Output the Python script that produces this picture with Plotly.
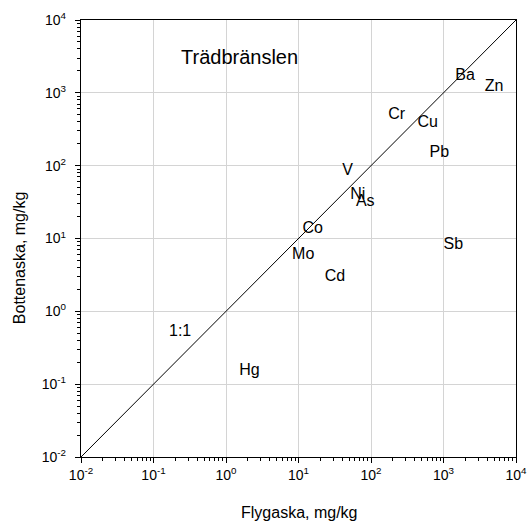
import plotly.graph_objects as go

# Element concentrations (mg/kg): fly ash (x) vs bottom ash (y)
elements = ["Ba", "Zn", "Cr", "Cu", "Pb", "V", "Ni", "As", "Co", "Sb", "Mo", "Cd", "Hg"]
flygaska = [1980, 5000, 226, 606, 875, 47.7, 65.6, 83.4, 15.7, 1365, 11.6, 31.9, 2.1]
bottenaska = [1700, 1210, 495, 388, 150, 84.3, 39.5, 31.9, 13.5, 8.1, 5.9, 2.98, 0.152]

# 1:1 reference line
ref_line = [0.01, 10000]

tick_vals = [0.01, 0.1, 1, 10, 100, 1000, 10000]
tick_text = ["10<sup>-2</sup>", "10<sup>-1</sup>", "10<sup>0</sup>", "10<sup>1</sup>",
             "10<sup>2</sup>", "10<sup>3</sup>", "10<sup>4</sup>"]

FONT = "Arial, Liberation Sans, sans-serif"

fig = go.Figure()

fig.add_trace(go.Scatter(
    x=ref_line, y=ref_line, mode="lines",
    line=dict(color="black", width=1), hoverinfo="skip", showlegend=False,
))

fig.add_trace(go.Scatter(
    x=flygaska, y=bottenaska, mode="text", text=elements,
    textposition="middle center",
    textfont=dict(family=FONT, size=16, color="black"),
    showlegend=False,
))

# Free-standing labels
fig.add_annotation(x=-0.634, y=-0.258, xref="x", yref="y", text="1:1", showarrow=False,
                   font=dict(family=FONT, size=16, color="black"))
fig.add_annotation(x=0.186, y=3.492, xref="x", yref="y", text="Trädbränslen", showarrow=False,
                   font=dict(family=FONT, size=20, color="black"))

# Axis titles
fig.add_annotation(x=0.5, y=0, xref="paper", yref="paper", yanchor="middle", yshift=-55,
                   text="Flygaska, mg/kg", showarrow=False,
                   font=dict(family=FONT, size=16, color="black"))
fig.add_annotation(x=0, y=0.455, xref="paper", yref="paper", xanchor="center", xshift=-62,
                   textangle=-90, text="Bottenaska, mg/kg", showarrow=False,
                   font=dict(family=FONT, size=16, color="black"))

axis_common = dict(
    type="log",
    range=[-2, 4],
    tickvals=tick_vals,
    ticktext=tick_text,
    showgrid=True,
    gridcolor="#d4d4d4",
    gridwidth=1.3,
    showline=True,
    linecolor="black",
    linewidth=1.3,
    mirror=True,
    ticks="outside",
    ticklen=5,
    tickcolor="black",
    tickfont=dict(family=FONT, size=14, color="black"),
    minor=dict(ticks="outside", ticklen=3, tickcolor="black", dtick="D1", showgrid=False),
    zeroline=False,
    automargin=False,
)

fig.update_xaxes(**axis_common)
fig.update_yaxes(**axis_common, ticklabelstandoff=6)

fig.update_layout(
    width=531, height=521,
    margin=dict(l=81, r=15, t=20, b=64),
    plot_bgcolor="white",
    paper_bgcolor="white",
    showlegend=False,
)

fig.write_html("out.html")
